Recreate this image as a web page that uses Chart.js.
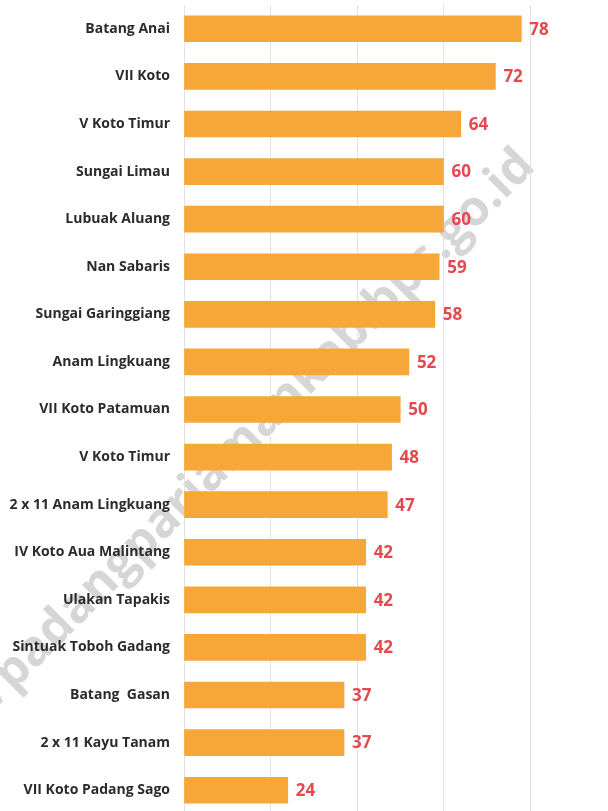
<!DOCTYPE html>
<html>
<head>
<meta charset="utf-8">
<script src="https://cdn.jsdelivr.net/npm/chart.js@4/dist/chart.umd.min.js"></script>
<style>
    html, body { margin: 0; padding: 0; background: #fff; overflow: hidden; }
    #wrap { width: 608px; height: 816px; }
</style>
</head>
<body>
<div id="wrap"><canvas id="barChart" width="608" height="816"></canvas></div>
<script>
// Data for the chart
var kecamatan = ['Batang Anai', 'VII Koto', 'V Koto Timur', 'Sungai Limau', 'Lubuak Aluang',
    'Nan Sabaris', 'Sungai Garinggiang', 'Anam Lingkuang', 'VII Koto Patamuan', 'V Koto Timur',
    '2 x 11 Anam Lingkuang', 'IV Koto Aua Malintang', 'Ulakan Tapakis', 'Sintuak Toboh Gadang',
    'Batang  Gasan', '2 x 11 Kayu Tanam', 'VII Koto Padang Sago'];
var jumlah = [78, 72, 64, 60, 60, 59, 58, 52, 50, 48, 47, 42, 42, 42, 37, 37, 24];
var xTicks = [0, 20, 40, 60, 80];
var watermark = 'https://padangpariamankab.bps.go.id';

// Watermark under everything else
var watermarkPlugin = {
    id: 'watermark',
    beforeDraw: function (chart) {
        var ctx = chart.ctx;
        ctx.save();
        ctx.translate(527, 158);
        ctx.rotate(-45 * Math.PI / 180);
        ctx.font = 'bold 49px "Open Sans"';
        ctx.fillStyle = '#d6d6d6';
        ctx.textAlign = 'right';
        ctx.textBaseline = 'middle';
        ctx.fillText(watermark, 0, 0);
        ctx.restore();
    }
};

// Value labels to the right of each bar
var valueLabels = {
    id: 'valueLabels',
    afterDatasetsDraw: function (chart) {
        var ctx = chart.ctx;
        var meta = chart.getDatasetMeta(0);
        ctx.save();
        ctx.font = 'bold 17px "Open Sans"';
        ctx.fillStyle = '#e5484d';
        ctx.textAlign = 'left';
        ctx.textBaseline = 'middle';
        meta.data.forEach(function (bar, i) {
            ctx.fillText(jumlah[i], bar.x + 8, bar.y + 1);
        });
        ctx.restore();
    }
};

var ctx = document.getElementById('barChart').getContext('2d');
var barChart = new Chart(ctx, {
    type: 'bar',
    data: {
        labels: kecamatan,
        datasets: [{
            data: jumlah,
            backgroundColor: '#f7a638',
            borderWidth: 0,
            barThickness: 26
        }]
    },
    options: {
        indexAxis: 'y',
        responsive: false,
        animation: false,
        devicePixelRatio: 1,
        layout: { padding: { top: 5, right: 78, bottom: 2, left: 0 } },
        plugins: {
            legend: { display: false },
            tooltip: { enabled: false }
        },
        scales: {
            x: {
                min: 0,
                max: 80,
                afterBuildTicks: function (scale) {
                    scale.ticks = xTicks.map(function (v) { return { value: v }; });
                },
                ticks: { display: false },
                grid: { color: '#e2e2e2', lineWidth: 1, drawTicks: false },
                border: { display: false }
            },
            y: {
                afterFit: function (scale) {
                    scale.width = 184;
                    scale.paddingTop = 0;
                    scale.paddingBottom = 0;
                },
                ticks: {
                    padding: 14,
                    color: '#2b2b2b',
                    font: { family: '"Open Sans"', weight: 'bold', size: 14 }
                },
                grid: { display: false, drawTicks: false },
                border: { display: false }
            }
        }
    },
    plugins: [watermarkPlugin, valueLabels]
});
</script>
</body>
</html>
